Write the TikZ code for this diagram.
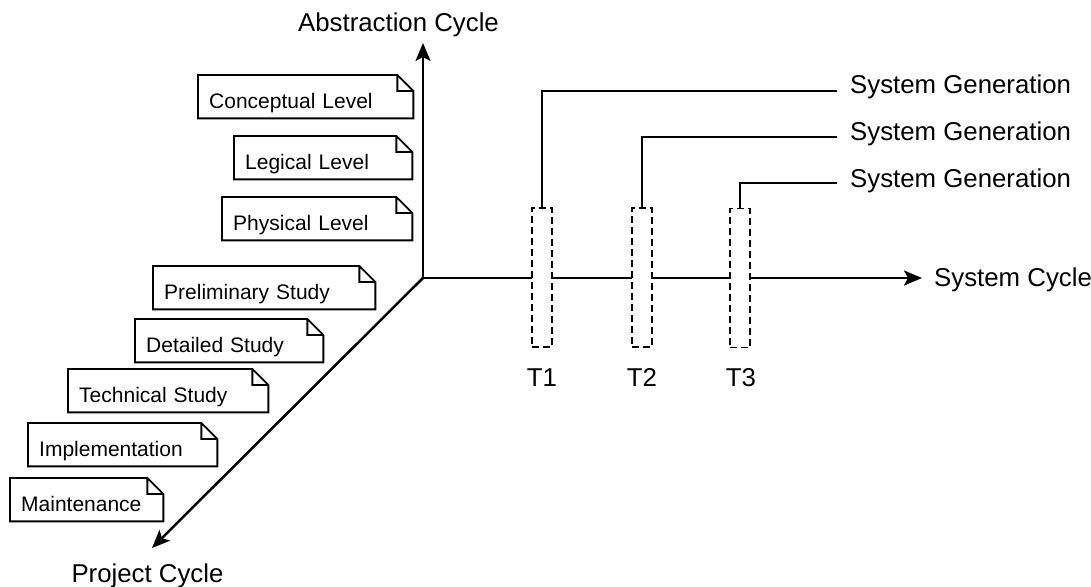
\documentclass[tikz,border=0pt]{standalone}
\usepackage{fontspec}
\setmainfont{Liberation Sans}
\usetikzlibrary{arrows.meta}
\begin{document}
\begin{tikzpicture}[x=1pt,y=-1pt,
  big/.style={font=\fontsize{25.8}{30}\selectfont, inner sep=0pt},
  notebox/.style={anchor=north west, minimum height=43pt, inner xsep=11pt, inner ysep=0pt,
    text height=28pt, text depth=4pt, align=left, font=\fontsize{21}{25}\selectfont},
  noteline/.style={line width=1.9pt, line join=miter},
  axis/.style={line width=2.5pt, -{Stealth[length=18pt,width=15pt,inset=4pt]}},
  leader/.style={line width=1.4pt},
  tbox/.style={draw, fill=white, line width=1.4pt, dash pattern=on 7pt off 4pt,
    minimum width=20pt, minimum height=139pt, inner sep=0pt}]
\useasboundingbox (0,0) rectangle (1091,586);

% notes
\node[notebox, text width=193pt] (n1) at (198,75)  {Conceptual Level};
\node[notebox, text width=156pt] (n2) at (234,136) {Legical Level};
\node[notebox, text width=168pt] (n3) at (222,197) {Physical Level};
\node[notebox, text width=200pt] (n4) at (153,266) {Preliminary Study};
\node[notebox, text width=166pt] (n5) at (135,319) {Detailed Study};
\node[notebox, text width=178pt] (n6) at (68,369)  {Technical Study};
\node[notebox, text width=167pt] (n7) at (28,423)  {Implementation};
\node[notebox, text width=131pt] (n8) at (10,478)  {Maintenance};
\foreach \n in {n1,n2,n3,n4,n5,n6,n7,n8}{
  \draw[noteline] (\n.north west) -- ([xshift=-16pt]\n.north east) -- ([yshift=-16pt]\n.north east)
    -- (\n.south east) -- (\n.south west) -- cycle
    ([xshift=-16pt]\n.north east) |- ([yshift=-16pt]\n.north east);
}

% axes
\coordinate (o) at (423,278);
\coordinate (up) at (423,43);
\coordinate (rt) at (922,278);
\coordinate (dn) at (152,548);
\draw[axis] (o) -- (up);
\draw[axis] (o) -- (rt);
\draw[axis] (o) -- (dn);

\node[big, anchor=base] (abs) at (398.5,32) {Abstraction Cycle};
\node[big, anchor=base west] (sys) at (934,286) {System Cycle};
\node[big, anchor=base] (proj) at (147.5,582) {Project Cycle};

% time boxes
\node[tbox] (t1) at (542,277.5) {};
\node[tbox] (t2) at (642,277.5) {};
\node[tbox] (t3) at (740,278) {};
\node[big, anchor=base] (l1) at (542,386) {T1};
\node[big, anchor=base] (l2) at (642,386) {T2};
\node[big, anchor=base] (l3) at (741,386) {T3};

% generations
\node[big, anchor=base west] (g1) at (850,93)  {System Generation};
\node[big, anchor=base west] (g2) at (850,140) {System Generation};
\node[big, anchor=base west] (g3) at (850,187) {System Generation};
\coordinate (e1) at (837,91);
\coordinate (e2) at (837,137);
\coordinate (e3) at (837,183);
\draw[leader] (t1.north) |- (e1);
\draw[leader] (t2.north) |- (e2);
\draw[leader] (t3.north) |- (e3);
\end{tikzpicture}
\end{document}
